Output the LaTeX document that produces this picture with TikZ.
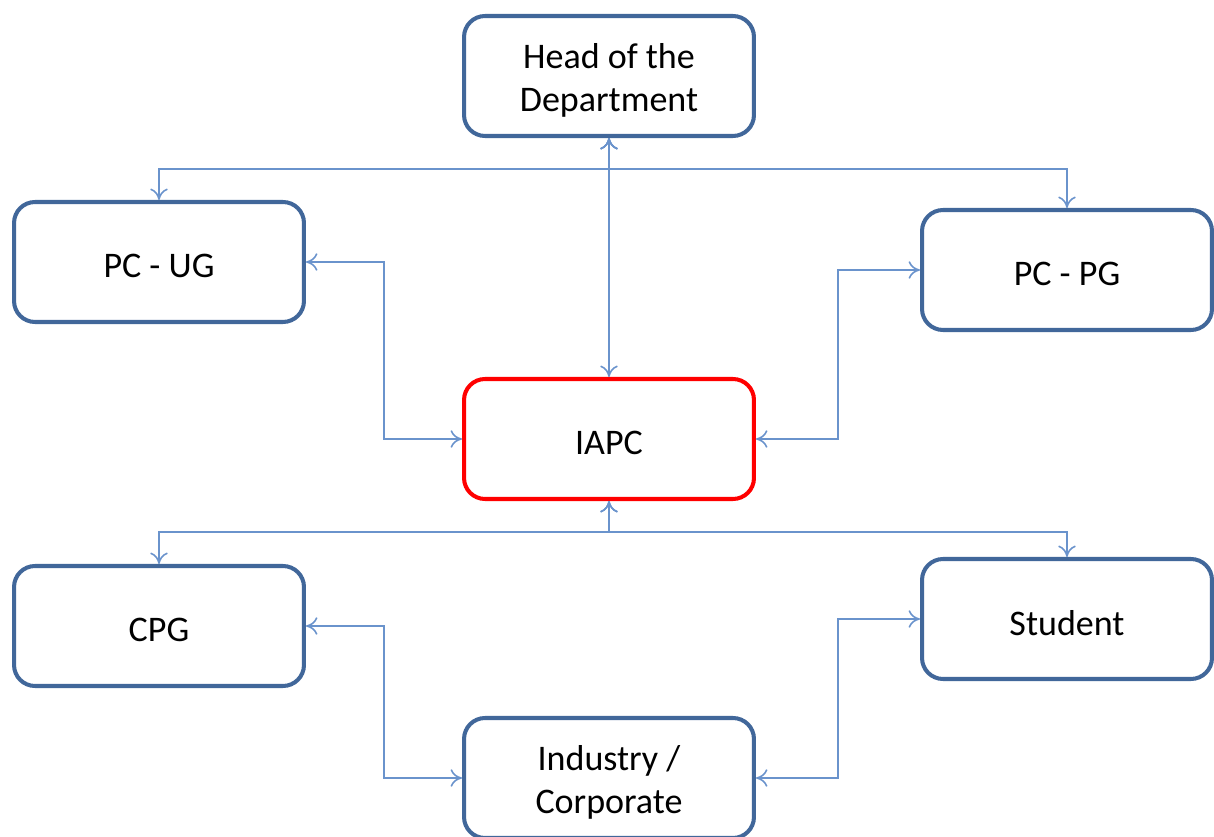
\documentclass[tikz,border=0pt]{standalone}
\usepackage{fontspec}
\setmainfont{Carlito}
\usetikzlibrary{arrows.meta,calc}
\definecolor{boxblue}{HTML}{41679A}
\definecolor{linkblue}{HTML}{6A93CC}
\definecolor{boxred}{HTML}{FF0000}
\newcommand{\lowtxt}[1]{\raisebox{-2.3pt}[\height][\depth]{#1}}
\begin{document}
\begin{tikzpicture}[x=0.02cm,y=-0.02cm,
  box/.style={draw=boxblue,line width=2.3pt,rounded corners=0.42cm,fill=white,
    minimum width=5.8cm,minimum height=2.4cm,align=center,
    font=\fontsize{20.5}{24.4}\selectfont,text=black},
  redbox/.style={box,draw=boxred},
  link/.style={draw=linkblue,line width=0.9pt,{To[length=6.5pt,width=10pt]}-{To[length=6.5pt,width=10pt]}}]
\useasboundingbox (0,0) rectangle (1214,837);
\node[box] (hod) at (609,76) {\lowtxt{Head of the}\\\lowtxt{Department}};
\node[box] (pcug) at (159,262) {\lowtxt{PC - UG}};
\node[box] (pcpg) at (1067,270) {\lowtxt{PC - PG}};
\node[redbox] (iapc) at (609,439) {\lowtxt{IAPC}};
\node[box] (cpg) at (159,626) {\lowtxt{CPG}};
\node[box] (student) at (1067,619) {\lowtxt{Student}};
\node[box] (ind) at (609,778) {\lowtxt{Industry /}\\\lowtxt{Corporate}};
\coordinate (topj) at (609,169);
\coordinate (botj) at (609,532);
\coordinate (ml) at (384,350);
\coordinate (mr) at (838,350);
\coordinate (bl) at (384,700);
\coordinate (br) at (838,700);
\draw[link] (hod.south) -- (iapc.north);
\draw[link] (pcug.north) |- (topj) -- (hod.south);
\draw[link] (pcpg.north) |- (topj) -- (hod.south);
\draw[link] (pcug.east) -| (ml) |- (iapc.west);
\draw[link] (pcpg.west) -| (mr) |- (iapc.east);
\draw[link] (cpg.north) |- (botj) -- (iapc.south);
\draw[link] (student.north) |- (botj) -- (iapc.south);
\draw[link] (cpg.east) -| (bl) |- (ind.west);
\draw[link] (student.west) -| (br) |- (ind.east);
\end{tikzpicture}
\end{document}
